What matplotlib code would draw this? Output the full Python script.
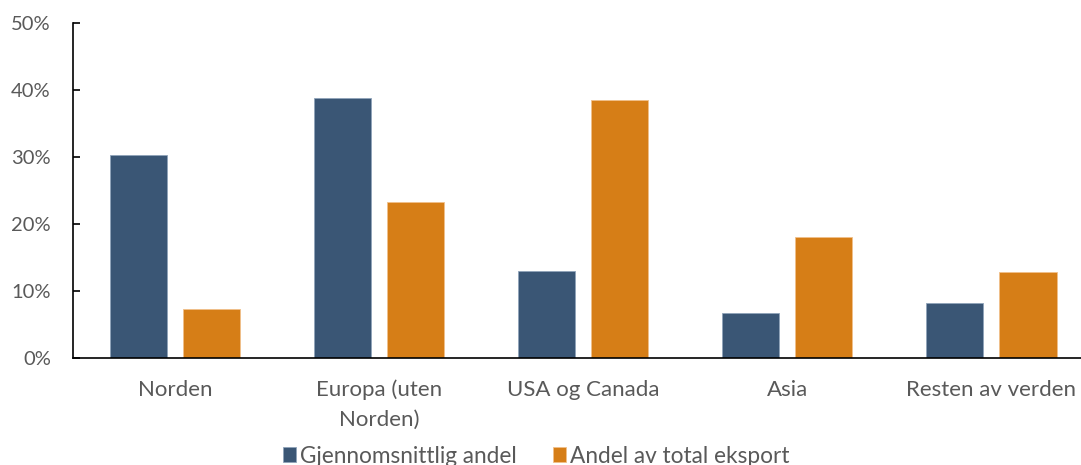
import matplotlib
matplotlib.use("Agg")
import matplotlib.pyplot as plt
import numpy as np
from matplotlib.ticker import FuncFormatter

categories = ["Norden", "Europa (uten\nNorden)", "USA og Canada", "Asia", "Resten av verden"]
gjennomsnitt = [30.3, 38.8, 13.0, 6.7, 8.2]
eksport = [7.3, 23.3, 38.5, 18.1, 12.8]
series_names = ["Gjennomsnittlig andel", "Andel av total eksport"]

plt.rcParams['font.family'] = ['Lato', 'DejaVu Sans']
txt = '#595959'

fig = plt.figure(figsize=(10.81, 4.65), dpi=100)
ax = fig.add_axes([73/1081, 1-358/465, 1-73/1081, (358-23)/465])

x = np.arange(len(categories))
w = 0.28
off = 0.18
b1 = ax.bar(x - off, gjennomsnitt, w, color='#3A5675', edgecolor='#8FA3BA', linewidth=0.6, label=series_names[0])
b2 = ax.bar(x + off, eksport, w, color='#D67E17', edgecolor='#F0C08A', linewidth=0.6, label=series_names[1])

ax.set_ylim(0, 50)
ax.set_xlim(-0.5, 4.44)
ax.set_yticks(np.arange(0, 51, 10))
ax.yaxis.set_major_formatter(FuncFormatter(lambda v, p: f"{int(v)}%"))
ax.set_xticks(x)
ax.set_xticklabels(categories, linespacing=1.6)
for s in ['top', 'right']:
    ax.spines[s].set_visible(False)
ax.spines['left'].set_linewidth(1.2)
ax.spines['bottom'].set_linewidth(1.2)
ax.tick_params(axis='y', direction='in', length=5, width=1.2, pad=16, labelsize=14.5, labelcolor=txt)
ax.tick_params(axis='x', length=0, pad=15.5, labelsize=16, labelcolor=txt)

fig.legend(handles=[b1, b2], labels=series_names, loc='center', bbox_to_anchor=(536/1081, 1-456/465),
           ncol=2, frameon=False, fontsize=16.3, labelcolor=txt, handlelength=0.6, handleheight=0.6,
           handletextpad=0.15, columnspacing=1.6)

fig.savefig("out.png", dpi=100)
